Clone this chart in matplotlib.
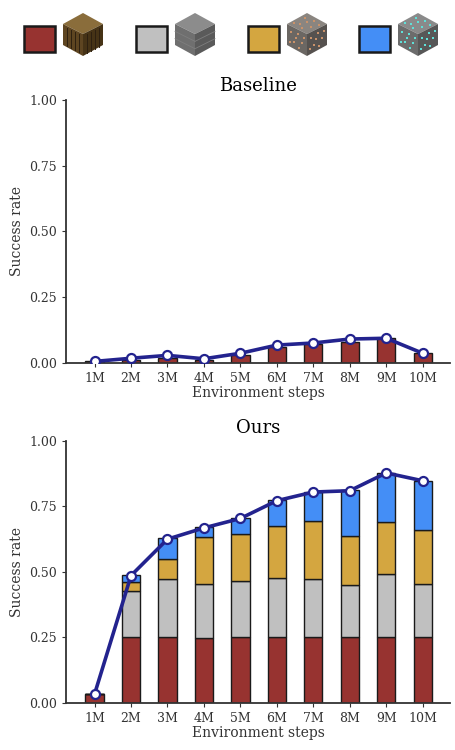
import numpy as np
import matplotlib
matplotlib.use("Agg")
import matplotlib.pyplot as plt
from matplotlib.patches import Polygon, Rectangle

plt.rcParams['font.family'] = ['DejaVu Serif']

steps = ['1M', '2M', '3M', '4M', '5M', '6M', '7M', '8M', '9M', '10M']

# baseline: only the first stage (log) is ever reached
base_log = [0.008, 0.010, 0.020, 0.012, 0.032, 0.062, 0.071, 0.078, 0.094, 0.038]
base_rate = [0.006, 0.018, 0.029, 0.016, 0.037, 0.068, 0.076, 0.091, 0.094, 0.037]

# ours: cumulative stage boundaries
ours_log = [0.033, 0.250, 0.250, 0.246, 0.250, 0.250, 0.250, 0.250, 0.250, 0.250]
ours_stone = [0.0, 0.428, 0.471, 0.455, 0.467, 0.477, 0.472, 0.450, 0.491, 0.455]
ours_iron = [0.0, 0.463, 0.549, 0.633, 0.643, 0.676, 0.694, 0.638, 0.691, 0.661]
ours_diamond = [0.0, 0.489, 0.629, 0.671, 0.704, 0.773, 0.806, 0.811, 0.878, 0.848]
ours_rate = [0.033, 0.486, 0.625, 0.668, 0.704, 0.772, 0.805, 0.810, 0.878, 0.848]

c_log = '#973330'
c_stone = '#c0c0c0'
c_iron = '#d4a640'
c_diamond = '#448ef6'
c_line = '#23238e'
edge = '#1a1a1a'


def style(ax, title):
    ax.set_title(title, fontsize=13)
    ax.set_ylim(0, 1)
    ax.set_xlim(0.22, 10.75)
    ax.set_yticks([0, 0.25, 0.5, 0.75, 1.0])
    ax.set_yticklabels(['0.00', '0.25', '0.50', '0.75', '1.00'])
    ax.set_xticks(np.arange(1, 11))
    ax.set_xticklabels(steps)
    ax.set_xlabel('Environment steps', fontsize=10, labelpad=1, color='#333333')
    ax.set_ylabel('Success rate', fontsize=10, color='#333333')
    for s in ['top', 'right']:
        ax.spines[s].set_visible(False)
    for s in ['left', 'bottom']:
        ax.spines[s].set_color('#333333')
        ax.spines[s].set_linewidth(1.3)
    ax.tick_params(labelsize=9, colors='#333333', length=3, width=0.8)


fig = plt.figure(figsize=(4.56, 7.5), dpi=100)
x = np.arange(1, 11)
w = 0.5

ax1 = fig.add_axes([0.145, 0.516, 0.842, 0.351])
ax1.bar(x, base_log, w, color=c_log, edgecolor=edge, linewidth=1)
ax1.plot(x, base_rate, color=c_line, lw=2.6, marker='o', ms=6.5,
         mfc='white', mec=c_line, mew=1.6, zorder=5)
style(ax1, 'Baseline')

ax2 = fig.add_axes([0.145, 0.063, 0.842, 0.349])
lows = [0] * 10
for top, col in [(ours_log, c_log), (ours_stone, c_stone),
                 (ours_iron, c_iron), (ours_diamond, c_diamond)]:
    hts = [max(t - b, 0) for t, b in zip(top, lows)]
    ax2.bar(x, hts, w, bottom=lows, color=col, edgecolor=edge, linewidth=1)
    lows = [max(t, b) for t, b in zip(top, lows)]
ax2.plot(x, ours_rate, color=c_line, lw=2.6, marker='o', ms=6.5,
         mfc='white', mec=c_line, mew=1.6, zorder=5)
style(ax2, 'Ours')

# legend row: coloured swatch + block icon, drawn in pixel coords
lg = fig.add_axes([0, 0, 1, 1], zorder=-1)
lg.set_xlim(0, 456)
lg.set_ylim(750, 0)
lg.axis('off')

blocks = [
    (24, c_log, ('#8a6d3b', '#5e4521', '#463316'), '#2e2010', 'stripes'),
    (136, c_stone, ('#8c8c8c', '#6f6f6f', '#5a5a5a'), '#7e7e7e', 'bricks'),
    (248, c_iron, ('#8a8580', '#6b6763', '#56524f'), '#c9926a', 'ore'),
    (359, c_diamond, ('#8a8a8a', '#6c6c6c', '#575757'), '#5fe0d8', 'ore'),
]
flecks = [(0.2, 0.3), (0.55, 0.2), (0.75, 0.55), (0.35, 0.7), (0.6, 0.85),
          (0.15, 0.8), (0.85, 0.25), (0.45, 0.45)]

for x0, col, faces, accent, kind in blocks:
    lg.add_patch(Rectangle((x0, 26), 31, 26, facecolor=col, edgecolor='#1a1a1a', lw=1.8))
    cx = x0 + 59
    top_f = [(cx, 13), (cx + 20, 24), (cx, 34), (cx - 20, 24)]
    left_f = [(cx - 20, 24), (cx, 34), (cx, 56), (cx - 20, 45)]
    right_f = [(cx, 34), (cx + 20, 24), (cx + 20, 45), (cx, 56)]
    for pts, fc in zip([top_f, left_f, right_f], faces):
        lg.add_patch(Polygon(pts, closed=True, facecolor=fc, edgecolor='none'))
    if kind == 'stripes':
        for f in [0.2, 0.4, 0.6, 0.8]:
            lg.plot([cx - 20 + 20 * f, cx - 20 + 20 * f], [24 + 10 * f + 2, 45 + 10 * f - 1],
                    color=accent, lw=0.7)
            lg.plot([cx + 20 * f, cx + 20 * f], [34 - 10 * f + 2, 56 - 10 * f - 1],
                    color=accent, lw=0.7)
    elif kind == 'bricks':
        for f in [0.35, 0.7]:
            lg.plot([cx - 20, cx], [24 + 21 * f, 34 + 21 * f], color=accent, lw=0.6)
            lg.plot([cx, cx + 20], [34 + 21 * f, 24 + 21 * f], color=accent, lw=0.6)
    else:
        for u, v in flecks:
            # top face
            px = cx + 20 * (u - v)
            py = 13 + 10.5 * (u + v)
            lg.plot(px, py, 's', ms=1.8, color=accent, mew=0)
            # left face
            lg.plot(cx - 20 + 20 * u, 24 + 10 * u + 21 * v, 's', ms=1.8, color=accent, mew=0)
            # right face
            lg.plot(cx + 20 * u, 34 - 10 * u + 21 * v, 's', ms=1.8, color=accent, mew=0)

fig.savefig('out.png', dpi=100)
